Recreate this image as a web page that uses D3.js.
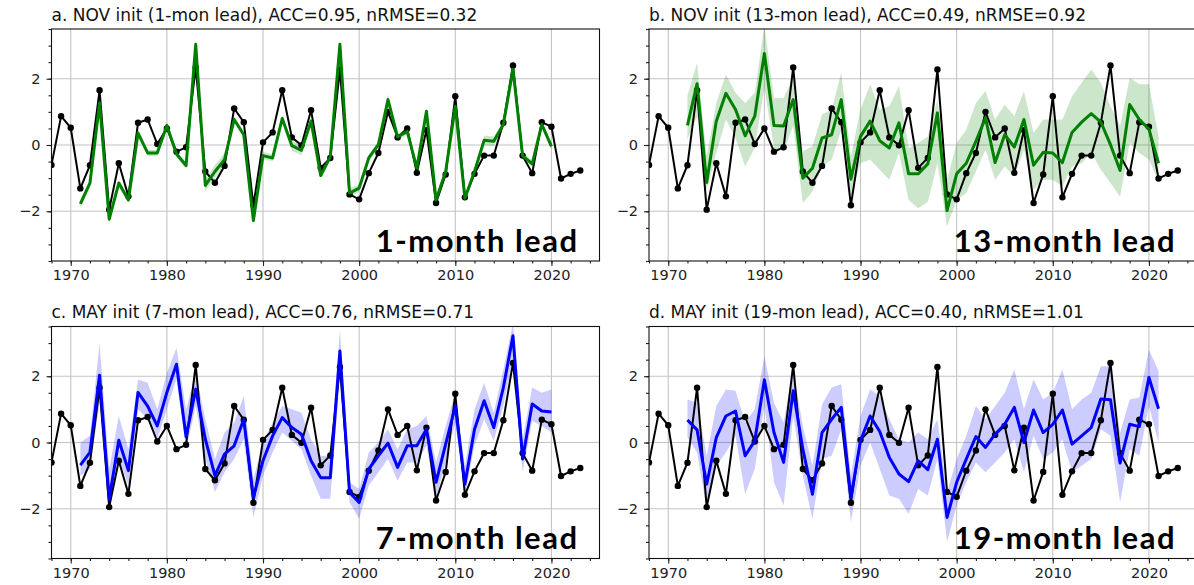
<!DOCTYPE html>
<html>
<head>
<meta charset="utf-8">
<script src="https://cdn.jsdelivr.net/npm/d3@7"></script>
<style>
  body { margin: 0; background: #fff; }
  svg { display: block; }
</style>
</head>
<body>
<svg></svg>
<script>
const width = 1194
const height = 585

// observed index 1968-2023
const obsStart = 1968
const observed = [-0.6, 0.87, 0.52, -1.31, -0.61, 1.65, -1.95, -0.55, -1.55, 0.67,
  0.77, 0.03, 0.5, -0.2, -0.07, 2.34, -0.8, -1.14, -0.63, 1.1,
  0.69, -1.82, 0.08, 0.38, 1.65, 0.23, -0.01, 1.05, -0.69, -0.39,
  2.28, -1.49, -1.64, -0.85, -0.24, 1.0, 0.23, 0.5, -0.84, 0.45,
  -1.75, -0.89, 1.47, -1.58, -0.87, -0.32, -0.32, 0.67, 2.4, -0.32,
  -0.85, 0.69, 0.55, -1.01, -0.87, -0.77]

// a. NOV init, 1-mon lead (1971-2020)
const aStart = 1971
const aMean = [-1.78, -1.15, 1.27, -2.24, -1.15, -1.66, 0.36, -0.24, -0.24, 0.59,
  -0.27, -0.62, 3.04, -1.22, -0.8, -0.44, 0.77, 0.31, -2.28, -0.32,
  -0.39, 0.8, -0.02, -0.16, 0.72, -0.92, -0.36, 3.04, -1.45, -1.3,
  -0.39, 0.01, 1.37, 0.24, 0.41, -0.7, 1.02, -1.66, -0.8, 1.17,
  -1.61, -0.8, 0.14, 0.11, 0.62, 2.28, -0.32, -0.57, 0.62, -0.04]
const aLo = [-1.9, -1.25, 1.15, -2.34, -1.25, -1.76, 0.26, -0.34, -0.34, 0.49,
  -0.37, -0.72, 2.94, -1.4, -1.0, -0.64, 0.67, 0.21, -2.4, -0.44,
  -0.49, 0.7, -0.17, -0.31, 0.62, -1.02, -0.46, 2.94, -1.6, -1.4,
  -0.49, -0.09, 1.22, 0.14, 0.31, -0.8, 0.92, -1.76, -0.9, 1.07,
  -1.71, -0.9, -0.01, -0.04, 0.52, 2.13, -0.42, -0.67, 0.52, -0.14]
const aHi = [-1.66, -1.05, 1.39, -2.14, -1.05, -1.56, 0.46, -0.14, -0.14, 0.69,
  -0.17, -0.52, 3.14, -1.04, -0.6, -0.24, 0.87, 0.41, -2.16, -0.2,
  -0.29, 0.9, 0.13, -0.01, 0.82, -0.82, -0.26, 3.14, -1.3, -1.2,
  -0.29, 0.11, 1.52, 0.34, 0.51, -0.6, 1.12, -1.56, -0.7, 1.27,
  -1.51, -0.7, 0.29, 0.26, 0.72, 2.43, -0.22, -0.47, 0.72, 0.06]

// b. NOV init, 13-mon lead (1972-2021)
const bStart = 1972
const bMean = [0.59, 1.85, -1.13, 0.72, 1.56, 1.07, 0.28, 0.87, 2.76, 0.59,
  0.57, 1.37, -1.0, -0.7, 0.21, 0.31, 1.37, -1.03, 0.26, 0.72,
  0.13, -0.09, 0.67, -0.87, -0.87, -0.57, 0.97, -1.98, -0.87, -0.55,
  0.11, 0.82, -0.53, 0.31, -0.06, 0.77, -0.61, -0.22, -0.24, -0.53,
  0.38, 0.69, 0.95, 0.69, 0.01, -0.77, 1.22, 0.77, 0.48, -0.55]
const bLo = [0.16, 0.87, -1.35, -0.24, 0.77, 0.21, -0.65, -0.09, 1.73, -0.09,
  -0.19, 0.57, -1.76, -1.4, -0.65, -0.44, 0.46, -1.56, -0.55, -0.44,
  -0.75, -1.05, -0.24, -1.66, -1.91, -1.71, -0.55, -2.46, -1.66, -1.45,
  -0.8, -0.14, -1.05, -0.65, -0.95, -0.14, -1.35, -1.05, -1.05, -1.25,
  -0.65, -0.55, -0.24, -0.75, -1.15, -1.56, 0.06, -0.24, -0.44, -1.1]
const bHi = [1.5, 2.48, -0.34, 1.27, 2.13, 1.58, 1.27, 1.58, 3.6, 1.42,
  1.42, 2.03, -0.19, -0.04, 0.92, 1.07, 2.18, -0.34, 1.07, 1.83,
  1.07, 1.17, 1.78, -0.09, 0.06, 0.26, 1.37, -1.05, 0.06, 0.46,
  1.27, 1.63, 0.77, 1.22, 0.87, 1.63, 0.36, 0.77, 0.77, 0.77,
  1.47, 1.88, 2.28, 1.88, 1.17, 0.57, 2.03, 1.83, 1.83, 0.26]

// c. MAY init, 7-mon lead (1971-2020)
const cStart = 1971
const cMean = [-0.68, -0.3, 2.03, -1.71, 0.07, -0.85, 1.51, 1.1, 0.5, 1.51,
  2.36, 0.17, 1.61, 0.1, -1.0, -0.35, -0.1, 0.7, -1.66, -0.55,
  0.2, 0.75, 0.45, 0.25, -0.55, -1.06, -1.06, 2.76, -1.51, -1.81,
  -0.8, -0.4, -0.02, -0.75, -0.1, -0.1, 0.4, -1.2, -0.05, 1.1,
  -1.26, 0.4, 1.26, 0.45, 1.66, 3.22, -0.5, 1.16, 0.95, 0.92]
const cLo = [-1.0, -0.8, 1.2, -2.0, -0.5, -1.3, 1.0, 0.7, 0.1, 1.0,
  1.91, -0.2, 1.1, -0.5, -1.49, -0.9, -0.5, 0.1, -2.26, -1.0,
  -0.3, 0.3, 0.05, -0.2, -1.0, -1.7, -1.7, 2.0, -1.8, -2.3,
  -1.3, -0.9, -0.5, -1.15, -0.6, -0.6, -0.1, -1.7, -0.6, 0.6,
  -1.6, -0.1, 0.7, 0.05, 1.1, 2.5, -0.9, 0.65, 0.5, 0.3]
const cHi = [0.0, 0.2, 3.0, -0.8, 0.8, -0.2, 1.9, 1.8, 1.0, 2.1,
  2.86, 1.0, 2.1, 0.7, -0.5, 0.3, 0.6, 1.4, -1.1, 0.0,
  0.6, 1.1, 1.0, 0.9, 0.1, -0.4, -0.4, 3.4, -1.2, -1.4,
  -0.3, 0.0, 0.4, -0.2, 0.4, 0.5, 0.8, -0.6, 0.5, 1.5,
  -0.7, 1.0, 1.8, 0.9, 2.2, 3.6, 0.1, 1.66, 1.5, 1.6]

// d. MAY init, 19-mon lead (1972-2021)
const dStart = 1972
const dMean = [0.68, 0.38, -1.26, 0.15, 0.8, 0.95, -0.4, 0.05, 1.89, 0.3,
  -0.6, 1.56, -0.2, -1.56, 0.3, 0.7, 1.06, -1.66, 0.05, 0.8,
  0.33, -0.45, -0.95, -1.18, -0.55, -0.82, 0.1, -2.26, -1.2, -0.5,
  0.18, -0.15, 0.25, 0.55, 1.06, 0.0, 0.98, 0.3, 0.55, 0.98,
  -0.05, 0.2, 0.45, 1.31, 1.29, -0.62, 0.55, 0.48, 1.96, 1.02]
const dLo = [0.15, -0.3, -2.0, -0.7, -0.3, 0.2, -1.56, -0.8, 1.1, -1.2,
  -1.9, 0.8, -1.0, -2.3, -0.5, -0.4, 0.4, -2.4, -0.7, 0.0,
  -0.8, -1.6, -1.7, -2.16, -1.4, -1.6, -0.5, -3.0, -1.9, -1.2,
  -0.6, -0.9, -0.6, -0.3, 0.1, -0.9, 0.2, -0.5, -0.3, 0.1,
  -0.9, -0.7, -0.5, 0.4, 0.2, -1.8, -0.2, -0.4, 1.1, 0.0]
const dHi = [1.3, 1.2, -0.4, 1.1, 1.6, 1.56, 0.6, 1.0, 2.6, 1.2,
  0.6, 2.2, 0.5, -0.7, 1.15, 1.66, 1.76, -1.0, 0.8, 1.6,
  1.4, 0.7, 0.1, 0.0, 0.3, 0.1, 0.7, -1.5, -0.5, 0.2,
  1.1, 0.7, 1.1, 1.5, 2.2, 1.0, 1.9, 1.3, 1.5, 2.2,
  1.0, 1.3, 1.5, 2.3, 2.3, 0.3, 1.3, 1.36, 2.8, 2.16]

const titles = [
  'a. NOV init (1-mon lead), ACC=0.95, nRMSE=0.32',
  'b. NOV init (13-mon lead), ACC=0.49, nRMSE=0.92',
  'c. MAY init (7-mon lead), ACC=0.76, nRMSE=0.71',
  'd. MAY init (19-mon lead), ACC=0.40, nRMSE=1.01'
]
const leadLabels = ['1-month lead', '13-month lead', '7-month lead', '19-month lead']
const xTicks = [1970, 1980, 1990, 2000, 2010, 2020]
const yTicks = [-2, 0, 2]
const xDomain = [1968, 2025]
const yDomain = [-3.5, 3.5]

const panels = [
  { left: 51.5, top: 29, start: aStart, mean: aMean, lo: aLo, hi: aHi, color: 'green' },
  { left: 649, top: 29, start: bStart, mean: bMean, lo: bLo, hi: bHi, color: 'green' },
  { left: 51.5, top: 326.5, start: cStart, mean: cMean, lo: cLo, hi: cHi, color: 'blue' },
  { left: 649, top: 326.5, start: dStart, mean: dMean, lo: dLo, hi: dHi, color: 'blue' }
]
const pw = 548
const ph = 232

let svg = d3.select('svg')
  .attr('width', width)
  .attr('height', height)
  .style('font-family', '"DejaVu Sans", sans-serif')

function drawPanel(p, i) {
  let g = svg.append('g').attr('transform', `translate(${p.left},${p.top})`)

  let xScale = d3.scaleLinear().domain(xDomain).range([0, pw])
  let yScale = d3.scaleLinear().domain(yDomain).range([ph, 0])

  g.append('clipPath').attr('id', 'clip' + i)
    .append('rect').attr('width', pw).attr('height', ph)

  // grid
  g.append('g').selectAll('line').data(xTicks).enter().append('line')
    .attr('x1', d => xScale(d)).attr('x2', d => xScale(d))
    .attr('y1', 0).attr('y2', ph)
    .attr('stroke', '#c4c4c4').attr('stroke-width', 1.1)
  g.append('g').selectAll('line').data(yTicks).enter().append('line')
    .attr('x1', 0).attr('x2', pw)
    .attr('y1', d => yScale(d)).attr('y2', d => yScale(d))
    .attr('stroke', '#c4c4c4').attr('stroke-width', 1.1)

  let plot = g.append('g').attr('clip-path', `url(#clip${i})`)

  let fcst = p.mean.map((v, k) => ({ year: p.start + k, mean: v, lo: p.lo[k], hi: p.hi[k] }))
  let obs = observed.map((v, k) => ({ year: obsStart + k, value: v }))

  let area = d3.area()
    .x(d => xScale(d.year))
    .y0(d => yScale(d.lo))
    .y1(d => yScale(d.hi))
  plot.append('path').datum(fcst)
    .attr('d', area)
    .attr('fill', p.color)
    .attr('fill-opacity', 0.2)

  let obsLine = d3.line().x(d => xScale(d.year)).y(d => yScale(d.value))
  plot.append('path').datum(obs)
    .attr('d', obsLine)
    .attr('fill', 'none')
    .attr('stroke', 'black')
    .attr('stroke-width', 2)
  plot.append('g').selectAll('circle').data(obs).enter().append('circle')
    .attr('cx', d => xScale(d.year))
    .attr('cy', d => yScale(d.value))
    .attr('r', 3.2)
    .attr('fill', 'black')

  let meanLine = d3.line().x(d => xScale(d.year)).y(d => yScale(d.mean))
  plot.append('path').datum(fcst)
    .attr('d', meanLine)
    .attr('fill', 'none')
    .attr('stroke', p.color)
    .attr('stroke-width', 3)
    .attr('stroke-linejoin', 'round')

  // axes
  let xAxis = d3.axisBottom(xScale).tickValues(xTicks).tickFormat(d3.format('d'))
    .tickSize(5).tickPadding(4)
  let xMinor = d3.axisBottom(xScale).tickValues(d3.range(1968, 2025, 2)).tickFormat('').tickSize(2.5)
  let yAxis = d3.axisLeft(yScale).tickValues(yTicks).tickFormat(d3.format('d'))
    .tickSize(5).tickPadding(6)
  let yMinor = d3.axisLeft(yScale).tickValues(d3.range(-3.5, 3.51, 0.5)).tickFormat('').tickSize(3)

  g.append('g').attr('transform', `translate(0,${ph})`).call(xMinor)
  g.append('g').attr('transform', `translate(0,${ph})`).call(xAxis)
  g.append('g').call(yMinor)
  g.append('g').call(yAxis)

  g.selectAll('.domain').remove()
  g.selectAll('.tick line').attr('stroke', '#222').attr('stroke-width', 1.1)
  g.selectAll('.tick text').attr('fill', '#222').style('font-size', '14.5px')
    .style('font-family', '"DejaVu Sans", sans-serif')

  // frame
  g.append('rect')
    .attr('width', pw).attr('height', ph)
    .attr('fill', 'none')
    .attr('stroke', '#111')
    .attr('stroke-width', 1.1)

  g.append('text')
    .attr('x', 0).attr('y', -8.5)
    .attr('fill', '#111')
    .style('font-size', '17px')
    .text(titles[i])

  g.append('text')
    .attr('x', 527).attr('y', ph - 9.5)
    .attr('text-anchor', 'end')
    .attr('fill', 'black')
    .style('font-family', 'Lato, sans-serif')
    .style('font-weight', 'bold')
    .style('font-size', '31px')
    .style('letter-spacing', '1.5px')
    .text(leadLabels[i])
}

panels.forEach((p, i) => drawPanel(p, i))
</script>
</body>
</html>
